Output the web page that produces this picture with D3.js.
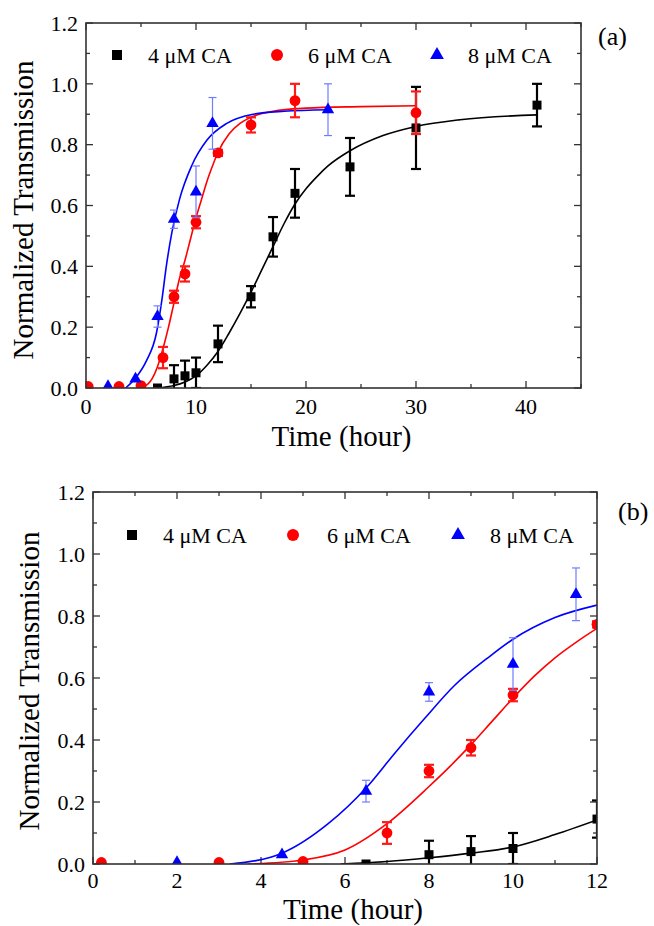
<!DOCTYPE html>
<html>
<head>
<meta charset="utf-8">
<script src="https://cdn.jsdelivr.net/npm/d3@7"></script>
<style>
  body { margin: 0; background: #fff; }
  svg { display: block; font-family: "Liberation Serif", "Times New Roman", serif; }
</style>
</head>
<body>
<svg id="svg" width="654" height="926"></svg>
<script>
// measured points (time in hours, normalized transmission, error)
const seriesNames = ["4 μM CA", "6 μM CA", "8 μM CA"];

const ca4Time  = [6.5, 8, 9, 10, 12, 15, 17, 19, 24, 30, 41];
const ca4Value = [0.0, 0.03, 0.04, 0.05, 0.145, 0.30, 0.497, 0.64, 0.727, 0.855, 0.93];
const ca4Error = [0.0, 0.045, 0.05, 0.05, 0.06, 0.035, 0.065, 0.08, 0.095, 0.135, 0.07];

const ca6Time  = [0.2, 3, 5, 7, 8, 9, 10, 12, 15, 19, 30];
const ca6Value = [0.005, 0.005, 0.008, 0.10, 0.30, 0.375, 0.545, 0.773, 0.865, 0.945, 0.905];
const ca6Error = [0, 0, 0, 0.035, 0.02, 0.025, 0.02, 0.01, 0.025, 0.055, 0.07];

const ca8Time  = [2, 4.5, 6.5, 8, 10, 11.5, 22];
const ca8Value = [0.005, 0.03, 0.235, 0.555, 0.645, 0.87, 0.915];
const ca8Error = [0, 0, 0.035, 0.03, 0.085, 0.085, 0.085];

// fitted curves
const fitA4Time  = [6.5, 8, 9, 10, 11, 12, 13, 14, 15, 16, 17, 18, 19, 20, 21, 22, 24, 27, 30, 34, 41];
const fitA4Value = [0, 0.008, 0.02, 0.04, 0.075, 0.12, 0.18, 0.245, 0.315, 0.39, 0.465, 0.54, 0.605, 0.655, 0.695, 0.73, 0.78, 0.83, 0.86, 0.882, 0.898];
const fitA6Time  = [5.1, 6, 6.5, 7, 7.5, 8, 8.5, 9, 9.5, 10, 10.5, 11, 11.5, 12, 13, 14, 15, 17, 20, 25, 30];
const fitA6Value = [0, 0.03, 0.07, 0.13, 0.2, 0.28, 0.36, 0.42, 0.49, 0.56, 0.62, 0.68, 0.73, 0.775, 0.835, 0.87, 0.89, 0.91, 0.92, 0.925, 0.928];
const fitA8Time  = [3.6, 4.6, 5.5, 6.4, 6.9, 7.3, 7.8, 8.5, 9.6, 11, 12.8, 15.2, 18, 22];
const fitA8Value = [0, 0.037, 0.09, 0.18, 0.29, 0.40, 0.51, 0.62, 0.73, 0.815, 0.87, 0.90, 0.91, 0.915];

// fitted curves
const fitB4Time  = [5.9, 7, 8, 9, 10, 11, 12];
const fitB4Value = [0, 0.008, 0.02, 0.035, 0.055, 0.095, 0.142];
const fitB6Time  = [3.7, 5, 6, 7, 8, 8.5, 9, 9.5, 10, 10.5, 11, 11.5, 12];
const fitB6Value = [0, 0.013, 0.045, 0.13, 0.25, 0.315, 0.385, 0.46, 0.535, 0.605, 0.665, 0.715, 0.76];
const fitB8Time  = [3.26, 4.5, 5.6, 6.5, 7.2, 7.9, 8.6, 9.4, 10, 11, 12];
const fitB8Value = [0, 0.035, 0.13, 0.245, 0.36, 0.47, 0.575, 0.665, 0.725, 0.795, 0.835];

const yTicks = [0, 0.2, 0.4, 0.6, 0.8, 1.0, 1.2];
const xTicksA = [0, 10, 20, 30, 40];
const xTicksB = [0, 2, 4, 6, 8, 10, 12];

function zip(ts, vs, es) {
  return ts.map((t, i) => ({ t, v: vs[i], e: es ? es[i] : 0 }));
}

const colors = ["#000000", "#ff0000", "#0000ff"];
const errColors = ["#000000", "#ff1a1a", "#6f7dff"];
const errWidth = [2.2, 2.2, 1.2];

let svg = d3.select("svg");

function marker(sel, k, size) {
  if (k == 0) {
    sel.append("rect")
      .attr("x", -size / 2).attr("y", -size / 2)
      .attr("width", size).attr("height", size)
      .attr("fill", colors[0]);
  } else if (k == 1) {
    sel.append("circle").attr("r", size * 0.6).attr("fill", colors[1]);
  } else {
    let s = size * 1.35;
    sel.append("path")
      .attr("d", d3.symbol().type(d3.symbolTriangle).size(s * s * 0.45)())
      .attr("fill", colors[2]);
  }
}

function panel(cfg) {
  let x = d3.scaleLinear().domain(cfg.xDomain).range([cfg.left, cfg.right]);
  let y = d3.scaleLinear().domain([0, 1.2]).range([cfg.bottom, cfg.top]);
  let g = svg.append("g");

  let clipId = "clip-" + cfg.name;
  g.append("clipPath").attr("id", clipId)
    .append("rect")
    .attr("x", cfg.left).attr("y", cfg.top)
    .attr("width", cfg.right - cfg.left).attr("height", cfg.bottom - cfg.top);

  // ticks on all four sides, pointing inward
  let xMinor = d3.range(cfg.xDomain[0], cfg.xDomain[1] + 1e-9, cfg.xMinorStep);
  let yMinor = d3.range(0, 1.2001, 0.1);
  let tickG = g.append("g").attr("stroke", "#333").attr("stroke-width", 1.3);
  xMinor.forEach(v => {
    let major = cfg.xTicks.some(t => Math.abs(t - v) < 1e-6);
    let len = major ? 7 : 4;
    tickG.append("line").attr("x1", x(v)).attr("x2", x(v)).attr("y1", cfg.bottom).attr("y2", cfg.bottom - len);
    tickG.append("line").attr("x1", x(v)).attr("x2", x(v)).attr("y1", cfg.top).attr("y2", cfg.top + len);
  });
  yMinor.forEach(v => {
    let major = yTicks.some(t => Math.abs(t - v) < 1e-6);
    let len = major ? 7 : 4;
    tickG.append("line").attr("y1", y(v)).attr("y2", y(v)).attr("x1", cfg.left).attr("x2", cfg.left + len);
    tickG.append("line").attr("y1", y(v)).attr("y2", y(v)).attr("x1", cfg.right).attr("x2", cfg.right - len);
  });

  // tick labels
  g.append("g").selectAll("text").data(yTicks).enter().append("text")
    .attr("x", cfg.left - 8)
    .attr("y", d => y(d))
    .attr("dy", "0.35em")
    .attr("text-anchor", "end")
    .attr("font-size", 22)
    .text(d3.format(".1f"));
  g.append("g").selectAll("text").data(cfg.xTicks).enter().append("text")
    .attr("x", d => x(d))
    .attr("y", cfg.bottom + cfg.xLabelOffset)
    .attr("text-anchor", "middle")
    .attr("font-size", 22)
    .text(d => d);

  // axis titles
  g.append("text")
    .attr("x", (cfg.left + cfg.right) / 2 + 8)
    .attr("y", cfg.xTitleY)
    .attr("text-anchor", "middle")
    .attr("font-size", 29)
    .text("Time (hour)");
  g.append("text")
    .attr("transform", "translate(" + cfg.yTitleX + "," + cfg.yTitleCenter + ") rotate(-90)")
    .attr("text-anchor", "middle")
    .attr("font-size", 29)
    .text("Normalized Transmission");

  g.append("text")
    .attr("x", cfg.tagX).attr("y", cfg.tagY)
    .attr("font-size", 26)
    .text(cfg.tag);

  let plot = g.append("g").attr("clip-path", "url(#" + clipId + ")");

  // fit lines
  let line = d3.line()
    .x(d => x(d.t))
    .y(d => y(d.v))
    .curve(d3.curveMonotoneX);
  cfg.fits.forEach((f, k) => {
    plot.append("path")
      .datum(f)
      .attr("fill", "none")
      .attr("stroke", colors[k])
      .attr("stroke-width", 1.6)
      .attr("d", line);
  });

  // error bars and markers
  cfg.points.forEach((pts, k) => {
    pts = pts.filter(d => d.t <= cfg.xDomain[1] + 0.5);
    let eg = plot.append("g")
      .attr("stroke", errColors[k])
      .attr("stroke-width", errWidth[k]);
    pts.filter(d => d.e > 0).forEach(d => {
      let cap = k == 2 ? 4 : 5;
      eg.append("line").attr("x1", x(d.t)).attr("x2", x(d.t)).attr("y1", y(d.v - d.e)).attr("y2", y(d.v + d.e));
      eg.append("line").attr("x1", x(d.t) - cap).attr("x2", x(d.t) + cap).attr("y1", y(d.v - d.e)).attr("y2", y(d.v - d.e));
      eg.append("line").attr("x1", x(d.t) - cap).attr("x2", x(d.t) + cap).attr("y1", y(d.v + d.e)).attr("y2", y(d.v + d.e));
    });
    pts.forEach(d => {
      let m = plot.append("g").attr("transform", "translate(" + x(d.t) + "," + y(d.v) + ")");
      marker(m, k, 9);
    });
  });

  // frame
  g.append("rect")
    .attr("x", cfg.left).attr("y", cfg.top)
    .attr("width", cfg.right - cfg.left).attr("height", cfg.bottom - cfg.top)
    .attr("fill", "none")
    .attr("stroke", "#333")
    .attr("stroke-width", 1.6);

  // legend
  let lg = g.append("g");
  seriesNames.forEach((name, k) => {
    let m = lg.append("g").attr("transform", "translate(" + cfg.legendMarkX[k] + "," + cfg.legendY + ")");
    marker(m, k, 10);
    lg.append("text")
      .attr("x", cfg.legendTextX[k])
      .attr("y", cfg.legendY + 8)
      .attr("font-size", 22)
      .text(name);
  });
}

panel({
  name: "a", tag: "(a)", tagX: 598, tagY: 45,
  left: 86, right: 581, top: 23, bottom: 388,
  xDomain: [0, 45], xTicks: xTicksA, xMinorStep: 5,
  xLabelOffset: 26, xTitleY: 446, yTitleX: 33, yTitleCenter: 210,
  legendY: 55, legendMarkX: [117, 277, 437], legendTextX: [148, 308, 468],
  fits: [zip(fitA4Time, fitA4Value), zip(fitA6Time, fitA6Value), zip(fitA8Time, fitA8Value)],
  points: [zip(ca4Time, ca4Value, ca4Error), zip(ca6Time, ca6Value, ca6Error), zip(ca8Time, ca8Value, ca8Error)]
});

panel({
  name: "b", tag: "(b)", tagX: 618, tagY: 520,
  left: 93, right: 597, top: 492, bottom: 864,
  xDomain: [0, 12], xTicks: xTicksB, xMinorStep: 1,
  xLabelOffset: 24, xTitleY: 919, yTitleX: 39, yTitleCenter: 681,
  legendY: 535, legendMarkX: [132, 293, 458], legendTextX: [163, 327, 490],
  fits: [zip(fitB4Time, fitB4Value), zip(fitB6Time, fitB6Value), zip(fitB8Time, fitB8Value)],
  points: [zip(ca4Time, ca4Value, ca4Error), zip(ca6Time, ca6Value, ca6Error), zip(ca8Time, ca8Value, ca8Error)]
});
</script>
</body>
</html>
